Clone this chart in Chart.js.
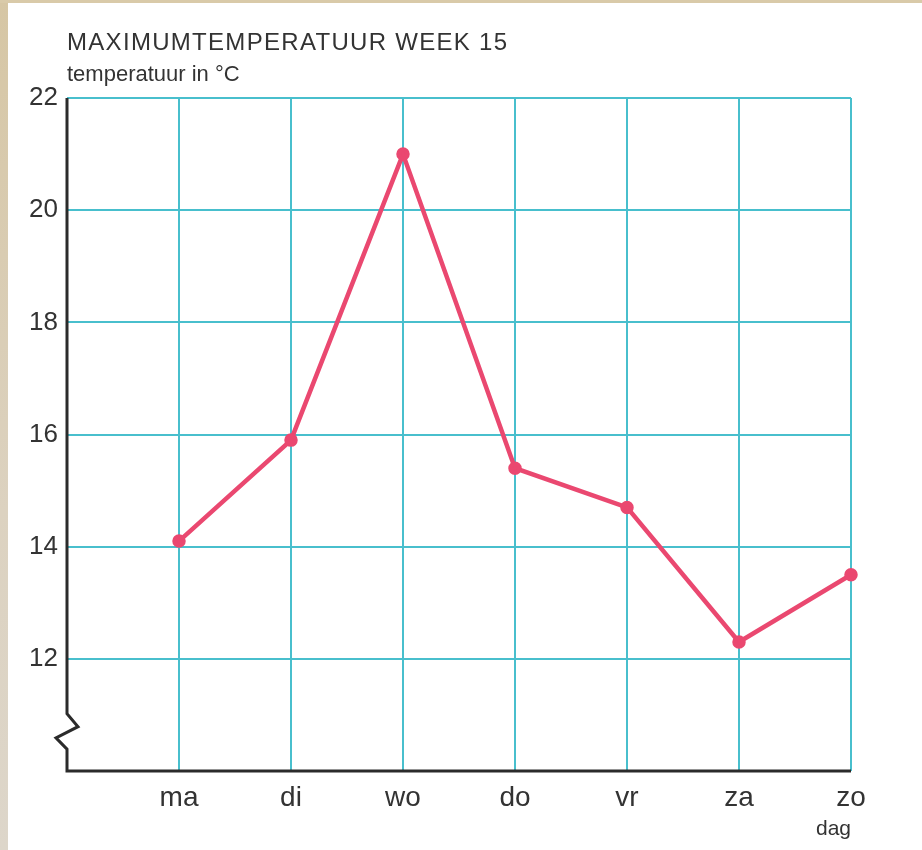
<!DOCTYPE html>
<html>
<head>
<meta charset="utf-8">
<script src="https://cdn.jsdelivr.net/npm/chart.js@4.4.1/dist/chart.umd.min.js"></script>
<style>
  html, body { margin: 0; padding: 0; background: #fff; }
  #wrap { position: relative; width: 922px; height: 850px; overflow: hidden; }
  #tempChart { position: absolute; left: 0; top: 0; }
  .strip { position: absolute; pointer-events: none; }
  #stripLeft { left: 0; top: 0; width: 8px; height: 850px; background: linear-gradient(180deg, #d6c6a4 0%, #dcd2c0 60%, #ddd6ca 100%); }
  #stripTop { left: 0; top: 0; width: 922px; height: 3px; background: #d9caa9; }
</style>
</head>
<body>
<div id="wrap">
  <canvas id="tempChart" width="922" height="850"></canvas>
  <div class="strip" id="stripLeft"></div>
  <div class="strip" id="stripTop"></div>
</div>
<script>
// data
const days = ['ma', 'di', 'wo', 'do', 'vr', 'za', 'zo'];
const maxTemps = [14.1, 15.9, 21.0, 15.4, 14.7, 12.3, 13.5];
const yTicks = [12, 14, 16, 18, 20, 22];

const titleText = 'MAXIMUMTEMPERATUUR WEEK 15';
const yLabel = 'temperatuur in \u00B0C';
const xLabel = 'dag';

const gridColor = '#48bfcd';
const lineColor = '#ea4870';
const textColor = '#333333';
const fontFamily = '"Liberation Sans", Arial, sans-serif';

// axes with a break in the y axis, plus the header texts
const decorPlugin = {
  id: 'decor',
  afterDraw(chart) {
    const ctx = chart.ctx;
    const area = chart.chartArea;
    const y = chart.scales.y;
    const left = area.left;

    ctx.save();
    ctx.strokeStyle = '#2b2b2b';
    ctx.lineWidth = 3;
    ctx.lineJoin = 'miter';
    ctx.beginPath();
    ctx.moveTo(left, area.top);
    ctx.lineTo(left, y.getPixelForValue(11.02));
    ctx.lineTo(left + 11, y.getPixelForValue(10.79));
    ctx.lineTo(left - 11, y.getPixelForValue(10.59));
    ctx.lineTo(left, y.getPixelForValue(10.39));
    ctx.lineTo(left, area.bottom);
    ctx.lineTo(area.right, area.bottom);
    ctx.stroke();

    ctx.fillStyle = textColor;
    ctx.textBaseline = 'alphabetic';
    ctx.textAlign = 'left';
    ctx.font = '24px ' + fontFamily;
    ctx.letterSpacing = '1.3px';
    ctx.fillText(titleText, left, 50);

    ctx.font = '22px ' + fontFamily;
    ctx.letterSpacing = '0px';
    ctx.fillText(yLabel, left, 81);

    ctx.textAlign = 'right';
    ctx.font = '21px ' + fontFamily;
    ctx.fillText(xLabel, area.right, 835);
    ctx.restore();
  }
};

const ctx = document.getElementById('tempChart').getContext('2d');
const chart = new Chart(ctx, {
  type: 'line',
  data: {
    datasets: [{
      label: 'maximumtemperatuur',
      data: maxTemps.map((t, i) => ({ x: i + 1, y: t })),
      borderColor: lineColor,
      backgroundColor: lineColor,
      borderWidth: 4.5,
      pointRadius: 4.5,
      pointHoverRadius: 4.5,
      tension: 0,
      clip: false
    }]
  },
  options: {
    responsive: false,
    animation: false,
    layout: { padding: { left: 0, top: 98, right: 71, bottom: 0 } },
    plugins: {
      legend: { display: false },
      tooltip: { enabled: false }
    },
    scales: {
      x: {
        type: 'linear',
        min: 0,
        max: days.length,
        afterBuildTicks: scale => {
          scale.ticks = [0].concat(days.map((d, i) => i + 1)).map(v => ({ value: v }));
        },
        afterFit: scale => { scale.height = 79; },
        border: { display: false },
        grid: {
          drawTicks: false,
          lineWidth: 2,
          color: c => c.tick && c.tick.value === 0 ? 'rgba(0,0,0,0)' : gridColor
        },
        ticks: {
          padding: 10,
          color: textColor,
          font: { family: fontFamily, size: 28 },
          callback: v => days[v - 1] || ''
        }
      },
      y: {
        min: 10,
        max: 22,
        afterBuildTicks: scale => {
          scale.ticks = [10].concat(yTicks).map(v => ({ value: v }));
        },
        afterFit: scale => { scale.width = 67; },
        border: { display: false },
        grid: {
          drawTicks: false,
          lineWidth: 2,
          color: c => c.tick && c.tick.value === 10 ? 'rgba(0,0,0,0)' : gridColor
        },
        ticks: {
          padding: 9,
          color: textColor,
          font: { family: fontFamily, size: 26 },
          callback: v => yTicks.includes(v) ? String(v) : ''
        }
      }
    }
  },
  plugins: [decorPlugin]
});
</script>
</body>
</html>
